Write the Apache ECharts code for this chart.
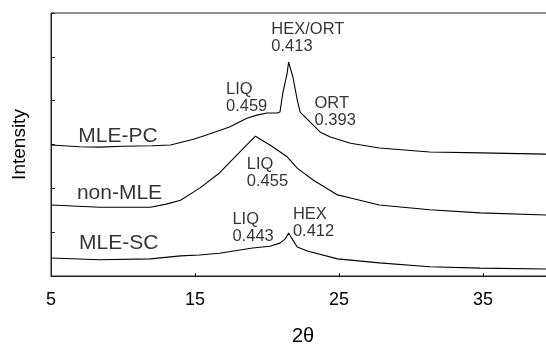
<!DOCTYPE html>
<html>
<head>
<meta charset="utf-8">
<script src="https://cdn.jsdelivr.net/npm/echarts@6/dist/echarts.min.js"></script>
<style>
  html, body { margin: 0; padding: 0; background: #fff; }
  #main { width: 546px; height: 344px; }
</style>
</head>
<body>
<div id="main"></div>
<script>
  // 2theta positions and intensities (offset traces)
  var pcX = [5, 7, 8.4, 10, 12, 13.3, 14.9, 16, 17.4, 18.6, 19.3, 20.0, 20.7, 20.9, 21.1, 21.4, 21.5, 21.8, 22.1, 22.3, 23.0, 23.7, 24.4, 25.8, 27.8, 31.3, 34.8, 39.4];
  var pcY = [2.99, 2.95, 2.94, 2.96, 2.97, 2.99, 3.12, 3.24, 3.40, 3.60, 3.67, 3.72, 3.72, 3.74, 4.18, 4.63, 4.88, 4.54, 4.02, 3.74, 3.51, 3.28, 3.17, 3.03, 2.92, 2.83, 2.81, 2.78];

  var nonX = [5, 8.4, 11.9, 13.0, 14.0, 15.35, 16.7, 17.9, 18.6, 19.2, 20.2, 21.4, 22.1, 23.2, 24.9, 25.8, 27.8, 31.3, 34.8, 39.4];
  var nonY = [1.62, 1.57, 1.57, 1.64, 1.73, 2.01, 2.35, 2.76, 2.99, 3.19, 2.99, 2.72, 2.46, 2.19, 1.85, 1.78, 1.62, 1.51, 1.44, 1.39];

  var scX = [5, 8.4, 11.9, 14.0, 15.3, 16.7, 19.0, 20.2, 20.9, 21.25, 21.5, 21.7, 22.1, 22.8, 24.9, 27.8, 31.3, 34.8, 39.4];
  var scY = [0.41, 0.37, 0.39, 0.46, 0.48, 0.52, 0.64, 0.68, 0.75, 0.84, 0.98, 0.87, 0.66, 0.57, 0.39, 0.30, 0.21, 0.18, 0.16];

  var xTicks = [5, 15, 25, 35];

  // annotation texts with anchor (left edge / baseline) in data units
  var noteText = ['MLE-PC', 'non-MLE', 'MLE-SC'];
  var noteX = [6.9, 6.8, 6.95];
  var noteY = [2.95, 1.66, 0.50];

  var peakText = ['LIQ\n0.459', 'HEX/ORT\n0.413', 'ORT\n0.393', 'LIQ\n0.455', 'LIQ\n0.443', 'HEX\n0.412'];
  var peakX = [17.15, 20.3, 23.3, 18.6, 17.6, 21.8];
  var peakY = [4.45, 5.82, 4.13, 2.74, 1.48, 1.60];

  function pairs(xs, ys) {
    return xs.map(function (x, i) { return [x, ys[i]]; });
  }

  var font = '"Liberation Sans", Arial, sans-serif';

  var traceStyle = { color: '#000', width: 1.1 };

  var option = {
    animation: false,
    backgroundColor: '#fff',
    grid: {
      left: 51, top: 13, bottom: 68, right: -9,
      outerBoundsMode: 'none',
      show: true, borderColor: '#222', borderWidth: 1,
      containLabel: false
    },
    xAxis: {
      type: 'value',
      min: 5, max: 40, interval: 10,
      name: '2θ',
      nameLocation: 'middle',
      nameGap: 50,
      nameTextStyle: { fontFamily: font, fontSize: 20, color: '#000' },
      axisLine: { show: true, lineStyle: { color: '#222', width: 1 } },
      axisTick: { show: true, inside: true, length: 3, lineStyle: { color: '#222' } },
      axisLabel: {
        fontFamily: font, fontSize: 18, color: '#000', margin: 15,
        formatter: function (v) { return xTicks.indexOf(v) >= 0 ? String(v) : ''; }
      },
      splitLine: { show: false }
    },
    yAxis: {
      type: 'value',
      min: 0, max: 6, interval: 1,
      name: 'Intensity',
      nameLocation: 'middle',
      nameGap: 22,
      nameTextStyle: { fontFamily: font, fontSize: 19, color: '#000' },
      axisLine: { show: true, lineStyle: { color: '#222', width: 1 } },
      axisTick: { show: true, inside: true, length: 4, lineStyle: { color: '#222' } },
      axisLabel: { show: false },
      splitLine: { show: false }
    },
    series: [
      {
        name: 'MLE-PC', type: 'line', data: pairs(pcX, pcY),
        showSymbol: false, smooth: false, lineStyle: traceStyle
      },
      {
        name: 'non-MLE', type: 'line', data: pairs(nonX, nonY),
        showSymbol: false, smooth: false, lineStyle: traceStyle
      },
      {
        name: 'MLE-SC', type: 'line', data: pairs(scX, scY),
        showSymbol: false, smooth: false, lineStyle: traceStyle
      },
      {
        name: 'names', type: 'scatter', symbolSize: 0, silent: true,
        data: noteText.map(function (t, i) { return { value: [noteX[i], noteY[i]], name: t }; }),
        label: {
          show: true, position: [0, 0], align: 'left', verticalAlign: 'bottom',
          formatter: '{b}', fontFamily: font, fontSize: 21, color: '#000'
        }
      },
      {
        name: 'peaks', type: 'scatter', symbolSize: 0, silent: true,
        data: peakText.map(function (t, i) { return { value: [peakX[i], peakY[i]], name: t }; }),
        label: {
          show: true, position: [0, 0], align: 'left', verticalAlign: 'top',
          formatter: '{b}', fontFamily: font, fontSize: 16.5, lineHeight: 17, color: '#000'
        }
      }
    ]
  };

  var myChart = echarts.init(document.getElementById('main'));
  myChart.setOption(option);
</script>
</body>
</html>
